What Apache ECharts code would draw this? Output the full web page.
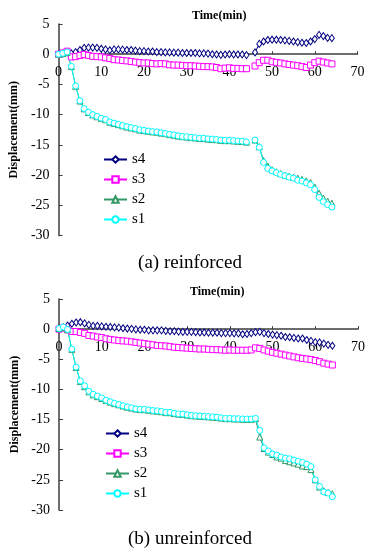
<!DOCTYPE html>
<html>
<head>
<meta charset="utf-8">
<script src="https://cdn.jsdelivr.net/npm/echarts@6/dist/echarts.min.js"></script>
<style>
  html, body {margin: 0; padding: 0; background: #fff;}
  #chart {width: 368px; height: 550px;}
</style>
</head>
<body>
<div id="chart"></div>
<script>
// time in minutes, one reading per minute
const minutes = [0, 1, 2, 3, 4, 5, 6, 7, 8, 9, 10, 11, 12, 13, 14, 15, 16, 17, 18, 19, 20,
  21, 22, 23, 24, 25, 26, 27, 28, 29, 30, 31, 32, 33, 34, 35, 36, 37, 38, 39, 40,
  41, 42, 43, 44, 45, 46, 47, 48, 49, 50, 51, 52, 53, 54, 55, 56, 57, 58, 59, 60,
  61, 62, 63, 64];

const seriesNames = ['s4', 's3', 's2', 's1'];
const xTicks = [0, 70, 10];   // min, max, step
const yTicks = [-30, 5, 5];

// (a) reinforced -- no reading at minute 45
const aS4 = [0, 0.1, 0.35, 0.15, 0.35, 0.7, 1.05, 1.1, 1.1, 1.05, 0.9, 0.8, 0.65, 0.8, 0.8, 0.75, 0.7, 0.7, 0.6, 0.5, 0.5,
  0.45, 0.45, 0.35, 0.35, 0.3, 0.3, 0.25, 0.25, 0.2, 0.2, 0.2, 0.2, 0.15, 0.15, 0.1, 0, -0.05, -0.1, -0.05, 0,
  -0.05, -0.05, -0.05, -0.15, null, 0.3, 1.7, 2.1, 2.35, 2.4, 2.4, 2.35, 2.3, 2.2, 2.1, 2.0, 1.9, 1.85, 2.1, 2.5,
  3.2, 3.0, 2.7, 2.65];
const aS3 = [0, 0.2, 0.5, -0.45, -0.4, -0.2, -0.05, -0.2, -0.35, -0.4, -0.45, -0.6, -0.7, -0.9, -0.95, -1.05, -1.1, -1.2, -1.3, -1.4, -1.45,
  -1.45, -1.55, -1.6, -1.55, -1.6, -1.75, -1.8, -1.8, -1.85, -1.9, -1.9, -1.95, -2.0, -2.05, -2.05, -2.1, -2.2, -2.4, -2.3, -2.25,
  -2.35, -2.35, -2.4, -2.4, null, -1.95, -1.4, -1.0, -1.0, -1.25, -1.35, -1.45, -1.6, -1.7, -1.8, -1.9, -2.05, -2.2, -1.8, -1.4,
  -1.15, -1.3, -1.45, -1.6];
const aS2 = [0, 0.1, 0.3, -2.05, -5.3, -7.75, -9.05, -9.65, -10.05, -10.35, -10.65, -10.85, -11.25, -11.45, -11.65, -11.85, -12.05, -12.2, -12.35, -12.55, -12.65,
  -12.75, -12.85, -12.9, -13.05, -13.15, -13.3, -13.4, -13.55, -13.65, -13.7, -13.8, -13.85, -13.95, -13.95, -14.05, -14.1, -14.15, -14.25, -14.3, -14.3,
  -14.35, -14.4, -14.45, -14.55, null, -14.2, -15.3, -17.6, -18.5, -19.1, -19.45, -19.75, -20.0, -20.2, -20.35, -20.5, -20.7, -20.95, -21.2, -22.0,
  -23.0, -23.8, -24.3, -24.65];
const aS1 = [0, 0.15, 0.35, -2.0, -5.25, -7.7, -9.0, -9.6, -10.0, -10.3, -10.6, -10.8, -11.2, -11.4, -11.6, -11.8, -12.0, -12.15, -12.3, -12.5, -12.6,
  -12.7, -12.8, -12.85, -13.0, -13.1, -13.25, -13.35, -13.5, -13.6, -13.65, -13.75, -13.8, -13.9, -13.9, -14.0, -14.05, -14.1, -14.2, -14.25, -14.25,
  -14.3, -14.35, -14.4, -14.5, null, -14.2, -15.4, -17.9, -18.9, -19.3, -19.6, -19.9, -20.1, -20.35, -20.5, -20.85, -21.0, -21.3, -21.6, -22.4,
  -23.7, -24.4, -24.9, -25.3];

// (b) unreinforced
const bS4 = [0.1, 0.3, 0.6, 0.9, 1.1, 1.15, 0.95, 0.7, 0.55, 0.55, 0.45, 0.4, 0.35, 0.3, 0.25, 0.15, 0.1, 0.05, -0.05, -0.1, -0.1,
  -0.2, -0.2, -0.2, -0.2, -0.3, -0.35, -0.35, -0.4, -0.45, -0.45, -0.45, -0.5, -0.55, -0.55, -0.6, -0.6, -0.6, -0.65, -0.65, -0.65,
  -0.7, -0.7, -0.85, -0.8, -0.65, -0.5, -0.45, -0.65, -0.8, -0.9, -1.0, -1.1, -1.3, -1.35, -1.45, -1.55, -1.55, -1.8, -1.95, -2.15,
  -2.2, -2.4, -2.6, -2.75];
const bS3 = [0, 0.2, -0.1, -0.4, -0.4, -0.55, -0.7, -1.05, -1.15, -1.3, -1.4, -1.6, -1.7, -1.8, -1.9, -1.95, -2.0, -2.1, -2.2, -2.3, -2.4,
  -2.5, -2.6, -2.7, -2.75, -2.8, -2.9, -3.0, -3.05, -3.1, -3.15, -3.2, -3.25, -3.3, -3.3, -3.35, -3.4, -3.4, -3.45, -3.5, -3.45,
  -3.5, -3.5, -3.5, -3.5, -3.45, -3.1, -3.2, -3.45, -3.65, -3.85, -4.0, -4.15, -4.3, -4.45, -4.6, -4.75, -4.85, -4.95, -5.05, -5.2,
  -5.4, -5.65, -5.8, -5.95];
const bS2 = [0.1, 0.3, -0.1, -3.35, -6.35, -8.7, -9.55, -10.4, -10.9, -11.2, -11.5, -11.85, -12.1, -12.35, -12.55, -12.75, -12.95, -13.1, -13.25, -13.35, -13.35,
  -13.45, -13.55, -13.6, -13.7, -13.85, -13.85, -14.0, -14.1, -14.15, -14.25, -14.35, -14.4, -14.45, -14.5, -14.55, -14.6, -14.65, -14.75, -14.85, -14.85,
  -14.9, -14.9, -14.95, -14.95, -14.95, -14.85, -17.9, -19.8, -20.4, -20.8, -21.2, -21.4, -21.8, -22.0, -22.2, -22.4, -22.7, -22.8, -23.3, -25.0,
  -26.2, -26.8, -27.1, -27.3];
const bS1 = [0.1, 0.35, -0.05, -3.3, -6.3, -8.6, -9.4, -10.3, -10.8, -11.1, -11.4, -11.8, -12.05, -12.3, -12.5, -12.7, -12.9, -13.05, -13.2, -13.3, -13.3,
  -13.4, -13.5, -13.55, -13.65, -13.8, -13.8, -13.95, -14.05, -14.1, -14.2, -14.3, -14.35, -14.4, -14.45, -14.5, -14.55, -14.6, -14.7, -14.8, -14.8,
  -14.85, -14.85, -14.9, -14.9, -14.9, -14.8, -16.8, -19.7, -20.2, -20.7, -20.9, -21.2, -21.4, -21.5, -21.7, -21.9, -22.1, -22.4, -22.8, -25.0,
  -26.1, -27.0, -27.2, -27.8];

const SERIF = '"Liberation Serif", "Times New Roman", serif';
const AXIS_COLOR = '#3c3c3c';

const styles = {
  s4: {color: '#000080', symbol: 'diamond', size: [5, 7]},
  s3: {color: '#ff00ff', symbol: 'rect', size: 6},
  s2: {color: '#339966', symbol: 'triangle', size: 6},
  s1: {color: '#00ffff', symbol: 'circle', size: 6}
};

const grids = [
  {left: 57.5, top: 24, width: 300, height: 211.5},
  {left: 59, top: 299, width: 303, height: 211}
];

const pairs = (ys) => minutes.map((t, i) => [t, ys[i] === null ? '-' : ys[i]]);

const makeSeries = (name, ys, idx) => ({
  name: name,
  type: 'line',
  xAxisIndex: idx,
  yAxisIndex: idx,
  data: pairs(ys),
  symbol: styles[name].symbol,
  symbolSize: styles[name].size,
  showAllSymbol: true,
  animation: false,
  lineStyle: {color: styles[name].color, width: 1},
  itemStyle: {color: '#fff', borderColor: styles[name].color, borderWidth: 1}
});

// the time axis crosses at displacement 0: pull it up from the grid bottom
const xAxisFor = (idx) => {
  const g = grids[idx];
  const zeroFromBottom = g.height * (0 - yTicks[0]) / (yTicks[1] - yTicks[0]);
  return {
    type: 'value',
    gridIndex: idx,
    min: xTicks[0], max: xTicks[1], interval: xTicks[2],
    position: 'bottom',
    offset: -zeroFromBottom,
    axisLine: {onZero: false, lineStyle: {color: AXIS_COLOR, width: 1.5}},
    axisTick: {inside: true, length: 3, lineStyle: {color: AXIS_COLOR}},
    axisLabel: {margin: 11, color: '#000', fontSize: 14, fontFamily: SERIF},
    splitLine: {show: false}
  };
};

const yAxisFor = (idx) => ({
  type: 'value',
  gridIndex: idx,
  min: yTicks[0], max: yTicks[1], interval: yTicks[2],
  name: 'Displacement(mm)',
  nameLocation: 'middle',
  nameGap: 36,
  nameTextStyle: {fontFamily: SERIF, fontWeight: 'bold', fontSize: 12, color: '#000'},
  axisLine: {show: true, onZero: false, lineStyle: {color: AXIS_COLOR, width: 1.5}},
  axisTick: {show: true, inside: true, length: 4, lineStyle: {color: AXIS_COLOR}},
  axisLabel: {margin: 9, color: '#000', fontSize: 14, fontFamily: SERIF},
  splitLine: {show: false}
});

const legendFor = (top, left) => ({
  data: seriesNames,
  orient: 'vertical',
  left: left,
  top: top,
  padding: 0,
  itemWidth: 23,
  itemHeight: 8,
  itemGap: 5,
  selectedMode: false,
  textStyle: {fontFamily: SERIF, fontSize: 15, color: '#000'}
});

const label = (text, x, y, size, bold, align) => ({
  type: 'text',
  x: x, y: y,
  style: {
    text: text,
    font: (bold ? 'bold ' : '') + size + 'px ' + SERIF,
    fill: '#000',
    textAlign: align,
    textVerticalAlign: 'middle'
  }
});

const chart = echarts.init(document.getElementById('chart'));
chart.setOption({
  animation: false,
  backgroundColor: '#fff',
  grid: grids,
  xAxis: [xAxisFor(0), xAxisFor(1)],
  yAxis: [yAxisFor(0), yAxisFor(1)],
  legend: [legendFor(152, 103), legendFor(426, 105)],
  graphic: [
    label('Time(min)', 192, 16, 12, true, 'left'),
    label('Time(min)', 190, 292, 12, true, 'left'),
    label('(a) reinforced', 190, 263, 19, false, 'center'),
    label('(b) unreinforced', 190, 539, 19, false, 'center')
  ],
  series: [
    makeSeries('s4', aS4, 0),
    makeSeries('s3', aS3, 0),
    makeSeries('s2', aS2, 0),
    makeSeries('s1', aS1, 0),
    makeSeries('s4', bS4, 1),
    makeSeries('s3', bS3, 1),
    makeSeries('s2', bS2, 1),
    makeSeries('s1', bS1, 1)
  ]
});
</script>
</body>
</html>
